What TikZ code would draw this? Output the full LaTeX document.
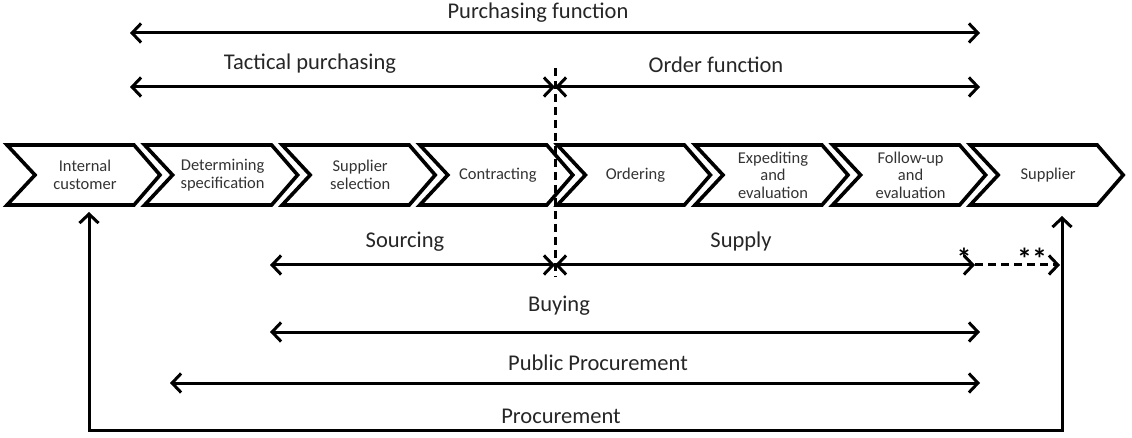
\documentclass[tikz,border=0pt]{standalone}
\usepackage{fontspec}
\setmainfont{Carlito}
\usetikzlibrary{arrows.meta,calc}

\begin{document}
\begin{tikzpicture}[
    x=1pt, y=-1pt,
    >={Straight Barb[length=9pt,width=19pt]},
    span/.style={<->, line width=3pt},
    chev/.style={line width=3.6pt, line join=miter},
    chevtext/.style={align=center, font=\fontsize{16.5}{17.5}\selectfont, text=black!80},
    lbl/.style={font=\fontsize{22.5}{25}\selectfont, text=black!85},
    star/.style={font=\bfseries\fontsize{30}{30}\selectfont, inner sep=0pt},
  ]
  \useasboundingbox (0,0) rectangle (1132,438);

  % ------------------------------------------------------------------
  % process chain: eight chevrons, left to right
  % ------------------------------------------------------------------
  \foreach \i/\txt in {1/{Internal\\customer}, 2/{Determining\\specification},
      3/{Supplier\\selection}, 4/{Contracting}, 5/{Ordering},
      6/{Expediting\\and\\evaluation}, 7/{Follow-up\\and\\evaluation}, 8/{Supplier}} {
    \pgfmathsetmacro\xo{7+(\i-1)*137.6}
    \draw[chev] (\xo,145) -- ++(127,0) -- ++(26,30) -- ++(-26,30)
                -- ++(-127,0) -- ++(28,-30) -- cycle;
    \node[chevtext] (c\i) at (\xo+78,175) {\txt};
  }

  % split between tactical and order side
  \draw[line width=3pt, dash pattern=on 8pt off 5pt] (555,68) -- (555,277);

  % ------------------------------------------------------------------
  % span arrows above the chain
  % ------------------------------------------------------------------
  \coordinate (pf-l) at (130,33);  \coordinate (pf-r) at (980,33);
  \coordinate (tp-l) at (130,87);  \coordinate (split-t) at (555,87);
  \coordinate (of-r) at (980,87);

  \draw[span] (pf-l) -- (pf-r);
  \draw[span] (tp-l) -- (split-t);
  \draw[span] (split-t) -- (of-r);

  \node[lbl, anchor=base] (pfun) at (538,19) {Purchasing function};
  \node[lbl] (tact) at (310,64) {Tactical purchasing};
  \node[lbl] (ofun) at (716,65) {Order function};

  % ------------------------------------------------------------------
  % span arrows below the chain
  % ------------------------------------------------------------------
  \coordinate (so-l) at (270,265);  \coordinate (split-b) at (555,265);
  \coordinate (su-r) at (975,265);  \coordinate (su-x) at (1060,265);
  \coordinate (bu-l) at (270,332);  \coordinate (bu-r) at (980,332);
  \coordinate (pp-l) at (170,383);  \coordinate (pp-r) at (980,383);
  \coordinate (cust) at (89,212);   \coordinate (supp) at (1062,216);

  \draw[span] (so-l) -- (split-b);
  \draw[span] (split-b) -- (su-r);
  \draw[->, line width=3pt, dash pattern=on 8pt off 5pt] (su-r) -- (su-x);
  \draw[span] (bu-l) -- (bu-r);
  \draw[span] (pp-l) -- (pp-r);
  \draw[span] (cust) -- (cust |- 0,430) -- (supp |- 0,430) -- (supp);

  \node[lbl] (sour) at (405,242) {Sourcing};
  \node[lbl] (supl) at (741,242) {Supply};
  \node[star] (st1) at (964,259) {*};
  \node[star] (st2) at (1032,259) {**};
  \node[lbl] (buy) at (559,306) {Buying};
  \node[lbl] (pubp) at (598,363) {Public Procurement};
  \node[lbl] (proc) at (561,416) {Procurement};

\end{tikzpicture}
\end{document}
